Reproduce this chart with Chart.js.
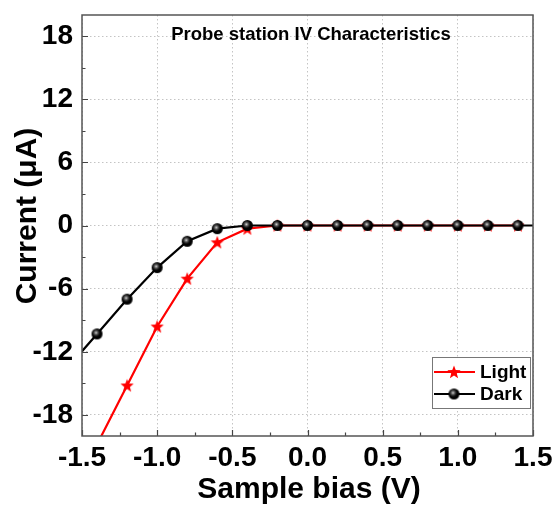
<!DOCTYPE html>
<html>
<head>
<meta charset="utf-8">
<script src="https://cdn.jsdelivr.net/npm/chart.js@4"></script>
<style>
    html, body { margin: 0; padding: 0; background: #fff; }
    #wrap { width: 556px; height: 506px; }
</style>
</head>
<body>
<div id="wrap"><canvas id="ivChart" width="556" height="506"></canvas></div>
<script>
// IV data (bias in V, current in uA)
const biasDark = [-1.6, -1.4, -1.2, -1.0, -0.8, -0.6, -0.4, -0.2, 0.0, 0.2, 0.4, 0.6, 0.8, 1.0, 1.2, 1.4, 1.6];
const currentDark = [-13.6, -10.3, -7.0, -4.0, -1.5, -0.3, 0, 0, 0, 0, 0, 0, 0, 0, 0, 0, 0];
const biasLight = [-1.4, -1.2, -1.0, -0.8, -0.6, -0.4, -0.2, 0.0, 0.2, 0.4, 0.6, 0.8, 1.0, 1.2, 1.4];
const currentLight = [-20.8, -15.2, -9.6, -5.05, -1.6, -0.3, 0, 0, 0, 0, 0, 0, 0, 0, 0];
const yTickValues = [-18, -12, -6, 0, 6, 12, 18];
const seriesNames = ['Light', 'Dark'];
const chartTitle = 'Probe station IV Characteristics';
const xAxisTitle = 'Sample bias (V)';
const yAxisTitle = 'Current (\u03bcA)';

const FONT = "'Liberation Sans', Arial, Helvetica, sans-serif";

// Marker images
function makeSphere(r) {
    const c = document.createElement('canvas');
    const s = r * 2 + 2;
    c.width = s; c.height = s;
    const g = c.getContext('2d');
    const cx = s / 2, cy = s / 2;
    g.beginPath();
    g.arc(cx, cy, r, 0, Math.PI * 2);
    g.fillStyle = '#000';
    g.fill();
    const grad = g.createRadialGradient(cx - 1, cy - 1.2, 0, cx - 1, cy - 1.2, r * 0.8);
    grad.addColorStop(0, 'rgba(220,220,220,1)');
    grad.addColorStop(1, 'rgba(60,60,60,0)');
    g.beginPath();
    g.arc(cx, cy, r, 0, Math.PI * 2);
    g.fillStyle = grad;
    g.fill();
    return c;
}

function makeStar(r, color) {
    const c = document.createElement('canvas');
    const s = r * 2 + 2;
    c.width = s; c.height = s;
    const g = c.getContext('2d');
    const cx = s / 2, cy = s / 2 + 0.5;
    g.beginPath();
    for (let i = 0; i < 10; i++) {
        const rad = i % 2 === 0 ? r : r * 0.42;
        const a = -Math.PI / 2 + i * Math.PI / 5;
        const px = cx + rad * Math.cos(a), py = cy + rad * Math.sin(a);
        if (i === 0) g.moveTo(px, py); else g.lineTo(px, py);
    }
    g.closePath();
    g.fillStyle = color;
    g.fill();
    return c;
}

const sphereImg = makeSphere(5.5);
const starImg = makeStar(7, '#ff0000');

const toPoints = (xs, ys) => xs.map((x, i) => ({ x: x, y: ys[i] }));

// Frame, inward ticks, titles and legend drawn on top of the chart
const decorPlugin = {
    id: 'decor',
    afterDraw(chart) {
        const { ctx, chartArea: a, scales } = chart;
        const xs = scales.x, ys = scales.y;
        ctx.save();

        // inward tick marks
        ctx.strokeStyle = '#444';
        ctx.lineWidth = 1.2;
        ctx.beginPath();
        for (let v = -1.5; v <= 1.5001; v += 0.25) {
            const px = Math.round(xs.getPixelForValue(v)) + 0.5;
            const major = Math.abs(v * 2 - Math.round(v * 2)) < 1e-6;
            ctx.moveTo(px, a.bottom);
            ctx.lineTo(px, a.bottom - (major ? 6 : 3.5));
        }
        for (let v = -18; v <= 18; v += 3) {
            const py = Math.round(ys.getPixelForValue(v)) + 0.5;
            const major = v % 6 === 0;
            ctx.moveTo(a.left, py);
            ctx.lineTo(a.left + (major ? 6 : 3.5), py);
        }
        ctx.stroke();

        // frame
        ctx.strokeStyle = '#555';
        ctx.lineWidth = 1.5;
        ctx.strokeRect(a.left, a.top, a.right - a.left, a.bottom - a.top);

        // title inside the plot
        ctx.fillStyle = '#000';
        ctx.font = 'bold 18.5px ' + FONT;
        ctx.textAlign = 'center';
        ctx.textBaseline = 'middle';
        ctx.fillText(chartTitle, 311, 35);

        // axis titles
        ctx.font = 'bold 30px ' + FONT;
        ctx.fillText(xAxisTitle, 309, 490);
        ctx.save();
        ctx.translate(28, 216);
        ctx.rotate(-Math.PI / 2);
        ctx.fillText(yAxisTitle, 0, 0);
        ctx.restore();

        // legend box
        const lx = 432, ly = 357, lw = 98, lh = 51;
        ctx.fillStyle = '#fff';
        ctx.fillRect(lx, ly, lw, lh);
        ctx.strokeStyle = '#777';
        ctx.lineWidth = 1;
        ctx.strokeRect(lx + 0.5, ly + 0.5, lw, lh);

        const ds = chart.data.datasets;
        ds.forEach((d, i) => {
            const cy = ly + 15 + i * 22;
            ctx.strokeStyle = d.borderColor;
            ctx.lineWidth = 2;
            ctx.beginPath();
            ctx.moveTo(lx + 2, cy);
            ctx.lineTo(lx + 43, cy);
            ctx.stroke();
            const img = d.pointStyle;
            ctx.drawImage(img, lx + 22 - img.width / 2, cy - img.height / 2);
            ctx.fillStyle = '#000';
            ctx.font = 'bold 19px ' + FONT;
            ctx.textAlign = 'left';
            ctx.fillText(d.label, lx + 48, cy + 1);
        });

        ctx.restore();
    }
};

const tickFont = { family: FONT, size: 28, weight: 'bold' };

// keep the plot box fixed regardless of label overhang
function fixBox(size, horizontal) {
    return s => {
        if (horizontal) s.height = size; else s.width = size;
        s.paddingTop = 0; s.paddingBottom = 0;
        s.paddingLeft = 0; s.paddingRight = 0;
    };
}

const ctx = document.getElementById('ivChart').getContext('2d');
new Chart(ctx, {
    type: 'scatter',
    data: {
        datasets: [
            {
                label: seriesNames[0],
                data: toPoints(biasLight, currentLight),
                showLine: true,
                borderColor: '#ff0000',
                borderWidth: 2.2,
                pointStyle: starImg,
                order: 1
            },
            {
                label: seriesNames[1],
                data: toPoints(biasDark, currentDark),
                showLine: true,
                borderColor: '#000',
                borderWidth: 2.2,
                pointStyle: sphereImg,
                order: 0
            }
        ]
    },
    options: {
        responsive: false,
        animation: false,
        devicePixelRatio: 1,
        layout: { padding: { top: 15, right: 23, left: 0, bottom: 0 } },
        plugins: {
            legend: { display: false },
            tooltip: { enabled: false }
        },
        scales: {
            x: {
                type: 'linear',
                min: -1.5,
                max: 1.5,
                afterFit: fixBox(70, true),
                ticks: {
                    stepSize: 0.5,
                    padding: 5,
                    color: '#000',
                    font: tickFont,
                    callback: v => v.toFixed(1),
                    maxRotation: 0
                },
                grid: { color: '#c4c4c4', lineWidth: 1, drawTicks: false },
                border: { display: false, dash: [1.5, 2.5] }
            },
            y: {
                type: 'linear',
                min: -20,
                max: 20,
                afterFit: fixBox(82, false),
                afterBuildTicks: s => { s.ticks = yTickValues.map(v => ({ value: v })); },
                ticks: {
                    padding: 9,
                    color: '#000',
                    font: tickFont
                },
                grid: { color: '#c4c4c4', lineWidth: 1, drawTicks: false },
                border: { display: false, dash: [1.5, 2.5] }
            }
        }
    },
    plugins: [decorPlugin]
});
</script>
</body>
</html>
